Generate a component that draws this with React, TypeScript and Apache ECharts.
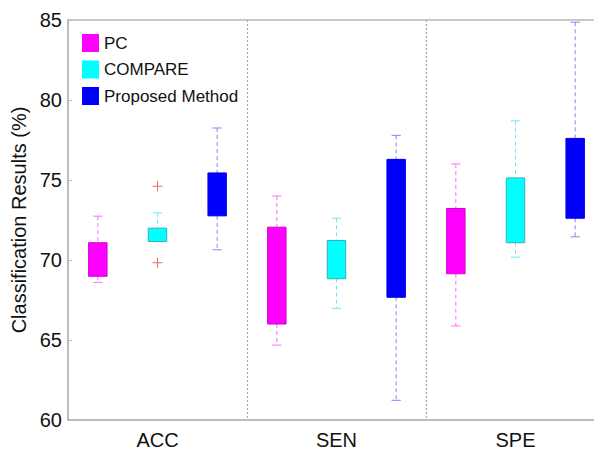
import React, { useEffect, useRef } from "react";
import * as echarts from "echarts";

const categories = ["ACC", "SEN", "SPE"];
const methods = ["PC", "COMPARE", "Proposed Method"];
// [lower whisker, Q1, Q3, upper whisker] per category
const pcStats = [
  [68.6, 68.98, 71.08, 72.74],
  [64.68, 66.0, 72.05, 74.0],
  [65.88, 69.14, 73.22, 76.0],
];
const compareStats = [
  [71.16, 71.16, 71.99, 72.95],
  [66.98, 68.83, 71.22, 72.61],
  [70.18, 71.08, 75.13, 78.7],
];
const proposedStats = [
  [70.64, 72.76, 75.44, 78.25],
  [61.23, 67.67, 76.29, 77.79],
  [71.45, 72.61, 77.6, 84.86],
];
// outliers: [category index, method index, value]
const outliers = [
  [0, 1, 74.61],
  [0, 1, 69.83],
];

const fills = ["#ff00ff", "#00ffff", "#0000ff"];
const edges = ["#d000d0", "#30b0b8", "#0000e0"];
const whiskerColors = ["#ff6cff", "#6ce8f4", "#8585ff"];
const FONT = "Liberation Sans, Arial, Helvetica, sans-serif";

function makeRender(m: number) {
  return (params: any, api: any) => {
    const cat = api.value(0);
    const low = api.value(1);
    const q1 = api.value(2);
    const q3 = api.value(3);
    const high = api.value(4);
    const band = api.size([1, 0])[0];
    const cx = api.coord([cat, q1])[0] + (m - 1) * (band / 3);
    const yLow = api.coord([cat, low])[1];
    const yQ1 = api.coord([cat, q1])[1];
    const yQ3 = api.coord([cat, q3])[1];
    const yHigh = api.coord([cat, high])[1];
    const bw = band * 0.103;
    const cw = bw * 0.5;
    const wStyle = { stroke: whiskerColors[m], lineWidth: 1, lineDash: [4, 3] };
    const cStyle = { stroke: whiskerColors[m], lineWidth: 1 };
    const children: any[] = [
      { type: "line", shape: { x1: cx, y1: yHigh, x2: cx, y2: yQ3 }, style: wStyle },
      { type: "line", shape: { x1: cx, y1: yQ1, x2: cx, y2: yLow }, style: wStyle },
      { type: "line", shape: { x1: cx - cw / 2, y1: yHigh, x2: cx + cw / 2, y2: yHigh }, style: cStyle },
    ];
    if (low < q1) {
      children.push({ type: "line", shape: { x1: cx - cw / 2, y1: yLow, x2: cx + cw / 2, y2: yLow }, style: cStyle });
    }
    children.push({
      type: "rect",
      shape: { x: cx - bw / 2, y: yQ3, width: bw, height: yQ1 - yQ3 },
      style: { fill: fills[m], stroke: edges[m], lineWidth: 1 },
    });
    return { type: "group", children };
  };
}

function renderOutlier(params: any, api: any) {
  const cat = api.value(0);
  const m = api.value(1);
  const v = api.value(2);
  const band = api.size([1, 0])[0];
  const [x0, y] = api.coord([cat, v]);
  const cx = x0 + (m - 1) * (band / 3);
  const h = 5;
  const st = { stroke: "#f06a6a", lineWidth: 1 };
  return {
    type: "group",
    children: [
      { type: "line", shape: { x1: cx - h, y1: y, x2: cx + h, y2: y }, style: st },
      { type: "line", shape: { x1: cx, y1: y - h, x2: cx, y2: y + h }, style: st },
    ],
  };
}

export default function App() {
  const ref = useRef<HTMLDivElement>(null);
  useEffect(() => {
    if (!ref.current) return;
    const chart = echarts.init(ref.current, null, { renderer: "svg" });
    const allStats = [pcStats, compareStats, proposedStats];
    const series: any[] = methods.map((name, m) => ({
      type: "custom",
      name,
      itemStyle: { color: fills[m] },
      renderItem: makeRender(m),
      encode: { x: 0, y: [1, 2, 3, 4] },
      data: allStats[m].map((s, i) => [i, ...s]),
    }));
    series.push({
      type: "custom",
      name: "outliers",
      renderItem: renderOutlier,
      encode: { x: 0, y: 2 },
      data: outliers,
    });
    chart.setOption({
      animation: false,
      backgroundColor: "#ffffff",
      grid: {
        left: 68,
        top: 20,
        width: 537,
        height: 401,
        show: true,
        borderColor: "#b8b8b8",
        borderWidth: 1.5,
      },
      legend: {
        data: methods,
        orient: "vertical",
        left: 82,
        top: 34,
        padding: 0,
        icon: "rect",
        itemWidth: 17,
        itemHeight: 18,
        itemGap: 8.5,
        itemStyle: { borderWidth: 0 },
        textStyle: { fontSize: 17, fontFamily: FONT, color: "#111" },
      },
      xAxis: {
        type: "category",
        data: categories,
        boundaryGap: true,
        axisLine: { lineStyle: { color: "#b8b8b8", width: 1.5 } },
        axisTick: { show: false },
        axisLabel: { fontSize: 20, fontFamily: FONT, color: "#111", margin: 10 },
        splitLine: {
          show: true,
          showMinLine: false,
          showMaxLine: false,
          lineStyle: { color: "#aaaaaa", type: [2, 2], width: 1.2 },
        },
      },
      yAxis: {
        type: "value",
        min: 60,
        max: 85,
        interval: 5,
        name: "Classification Results (%)",
        nameLocation: "middle",
        nameGap: 30,
        nameTextStyle: { fontSize: 20, fontFamily: FONT, color: "#111" },
        axisLine: { show: true, lineStyle: { color: "#b8b8b8", width: 1.5 } },
        axisTick: { show: true, inside: true, length: 4, lineStyle: { color: "#b8b8b8" } },
        axisLabel: { fontSize: 20, fontFamily: FONT, color: "#111", margin: 6 },
        splitLine: { show: false },
      },
      series,
    });
    return () => chart.dispose();
  }, []);
  return (
    <div
      style={{
        position: "fixed",
        left: 0,
        top: 0,
        width: 594,
        height: 450,
        overflow: "hidden",
        background: "#fff",
      }}
    >
      <div ref={ref} style={{ width: 640, height: 450 }} />
    </div>
  );
}
